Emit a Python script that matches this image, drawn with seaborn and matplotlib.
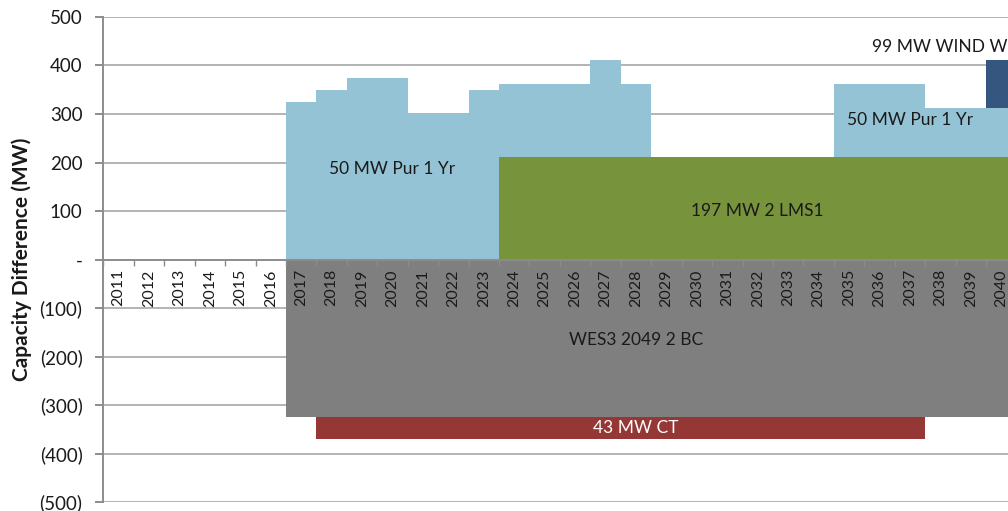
import numpy as np
import pandas as pd
import matplotlib
matplotlib.use("Agg")
import matplotlib.pyplot as plt
import seaborn as sns
from matplotlib.ticker import FuncFormatter

# capacity additions / retirements by year (MW)
years = [str(y) for y in range(2011, 2041)]
lms1 = [0] * 13 + [212] * 17
purchase = ([0] * 6 + [325, 350, 375, 375, 300, 300, 350]
            + [150, 150, 150, 200, 150] + [0] * 6 + [150] * 3 + [100] * 3)
wind = [0] * 29 + [99]
wes3 = [0] * 6 + [-325] * 24
ct = [0] * 7 + [-46] * 20 + [0] * 3

df = pd.DataFrame({"year": years, "lms1": lms1, "purchase": purchase,
                   "wind": wind, "wes3": wes3, "ct": ct})
df["pur_top"] = df["lms1"] + df["purchase"]
df["wind_top"] = df["pur_top"] + df["wind"]
df["ct_bottom"] = df["wes3"] + df["ct"]

sns.set_theme(style="white")
plt.rcParams["font.family"] = ["Lato", "DejaVu Sans"]

fig = plt.figure(figsize=(10.08, 5.11), dpi=100)
ax = fig.add_axes([103.4 / 1008, 9 / 511, 913 / 1008, 485 / 511])

# gridlines behind everything
for v in range(-500, 501, 100):
    if v != 0:
        ax.axhline(v, color="#b3b3b3", lw=1.4, zorder=0)

# layered bars: draw cumulative totals first, then the lower segments on top
layers = [("wind_top", "#35577f"), ("pur_top", "#93c3d4"), ("lms1", "#77933c"),
          ("ct_bottom", "#953735"), ("wes3", "#7f7f7f")]
for col, color in layers:
    sns.barplot(data=df, x="year", y=col, order=years, color=color,
                saturation=1, width=1, errorbar=None, linewidth=0, ax=ax)

ax.set_xlim(-0.5, len(years) - 0.5)
ax.set_ylim(-500, 500)
ax.set_axisbelow(False)

# x axis sits at zero
for s in ["top", "right"]:
    ax.spines[s].set_visible(False)
ax.spines["bottom"].set_position(("data", 0))
ax.spines["bottom"].set_color("#8c8c8c")
ax.spines["bottom"].set_linewidth(1.4)
ax.spines["left"].set_color("#8c8c8c")
ax.spines["left"].set_linewidth(1.4)

ax.set_xlabel("")
ax.set_xticks(range(len(years)))
ax.set_xticklabels(years, rotation=90, fontsize=11.5, color="#1a1a1a")
ax.set_xticks(np.arange(-0.5, len(years), 1), minor=True)
ax.tick_params(axis="x", which="major", length=0, pad=7)
ax.tick_params(axis="x", which="minor", length=4, width=1, color="#8c8c8c",
               direction="out", bottom=True)

ax.set_yticks(range(-500, 501, 100))
ax.yaxis.set_major_formatter(FuncFormatter(
    lambda v, p: "-" if v == 0 else (f"({abs(int(v))})" if v < 0 else f"{int(v)}")))
ax.tick_params(axis="y", length=6, width=1.4, color="#8c8c8c", pad=9,
               labelsize=13.5, labelcolor="#1a1a1a", left=True)

ax.set_ylabel("Capacity Difference (MW)", fontsize=15, fontweight="bold",
              color="#1a1a1a")
ax.yaxis.set_label_coords(-0.078, 0.5)

# segment labels
txt = dict(fontsize=12.5, color="#1a1a1a", ha="center", va="center", zorder=5)
ax.text(9.0, 186, "50 MW Pur 1 Yr", **txt)
ax.text(21.0, 101, "197 MW 2 LMS1", **txt)
ax.text(26.0, 287, "50 MW Pur 1 Yr", **txt)
ax.text(24.76, 439, "99 MW WIND WIND", fontsize=12.5, color="#1a1a1a",
        ha="left", va="center", zorder=5)
ax.text(17.0, -165, "WES3 2049 2 BC", **txt)
ax.text(17.0, -347, "43 MW CT", fontsize=12.5, color="white", ha="center",
        va="center", zorder=5)

fig.savefig("out.png", dpi=100)
